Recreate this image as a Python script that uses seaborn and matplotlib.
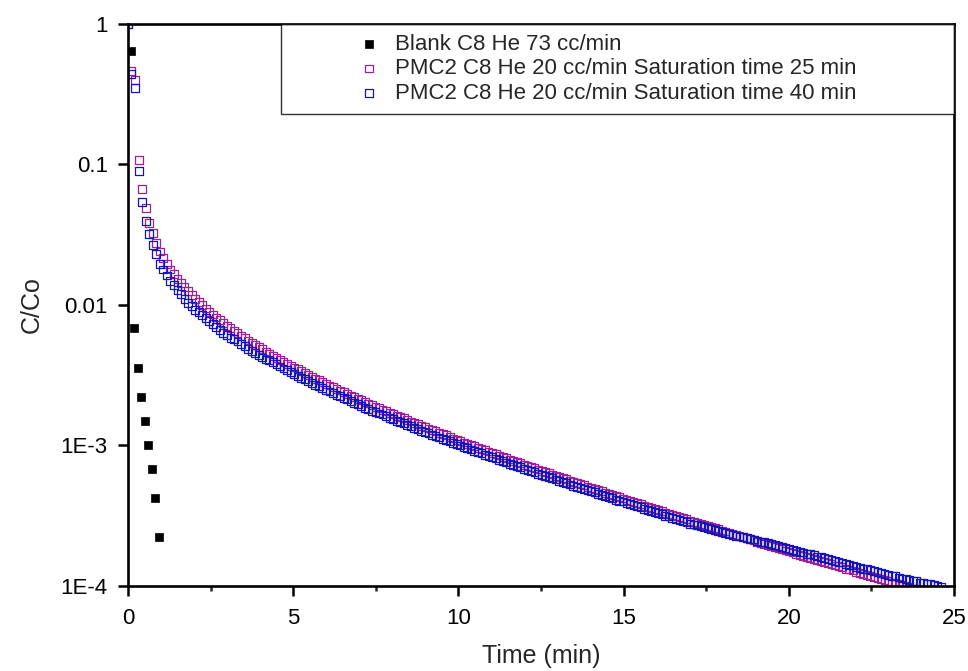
import numpy as np
import pandas as pd
import seaborn as sns
import matplotlib
matplotlib.use("Agg")
import matplotlib.pyplot as plt
from matplotlib.ticker import FixedLocator, FixedFormatter, MultipleLocator, NullLocator

# sampling times of the PMC2 runs (min)
time_min = [
    0.0, 0.107, 0.214, 0.321, 0.428, 0.535, 0.642, 0.749, 0.856, 0.963,
    1.07, 1.177, 1.284, 1.391, 1.498, 1.605, 1.712, 1.819, 1.926, 2.033,
    2.14, 2.247, 2.354, 2.461, 2.568, 2.675, 2.782, 2.889, 2.996, 3.103,
    3.21, 3.317, 3.424, 3.531, 3.638, 3.745, 3.852, 3.959, 4.066, 4.173,
    4.28, 4.387, 4.494, 4.601, 4.708, 4.815, 4.922, 5.029, 5.136, 5.243,
    5.35, 5.457, 5.564, 5.671, 5.778, 5.885, 5.992, 6.099, 6.206, 6.313,
    6.42, 6.527, 6.634, 6.741, 6.848, 6.955, 7.062, 7.169, 7.276, 7.383,
    7.49, 7.597, 7.704, 7.811, 7.918, 8.025, 8.132, 8.239, 8.346, 8.453,
    8.56, 8.667, 8.774, 8.881, 8.988, 9.095, 9.202, 9.309, 9.416, 9.523,
    9.63, 9.737, 9.844, 9.951, 10.058, 10.165, 10.272, 10.379, 10.486, 10.593,
    10.7, 10.807, 10.914, 11.021, 11.128, 11.235, 11.342, 11.449, 11.556, 11.663,
    11.77, 11.877, 11.984, 12.091, 12.198, 12.305, 12.412, 12.519, 12.626, 12.733,
    12.84, 12.947, 13.054, 13.161, 13.268, 13.375, 13.482, 13.589, 13.696, 13.803,
    13.91, 14.017, 14.124, 14.231, 14.338, 14.445, 14.552, 14.659, 14.766, 14.873,
    14.98, 15.087, 15.194, 15.301, 15.408, 15.515, 15.622, 15.729, 15.836, 15.943,
    16.05, 16.157, 16.264, 16.371, 16.478, 16.585, 16.692, 16.799, 16.906, 17.013,
    17.12, 17.227, 17.334, 17.441, 17.548, 17.655, 17.762, 17.869, 17.976, 18.083,
    18.19, 18.297, 18.404, 18.511, 18.618, 18.725, 18.832, 18.939, 19.046, 19.153,
    19.26, 19.367, 19.474, 19.581, 19.688, 19.795, 19.902, 20.009, 20.116, 20.223,
    20.33, 20.437, 20.544, 20.651, 20.758, 20.865, 20.972, 21.079, 21.186, 21.293,
    21.4, 21.507, 21.614, 21.721, 21.828, 21.935, 22.042, 22.149, 22.256, 22.363,
    22.47, 22.577, 22.684, 22.791, 22.898, 23.005, 23.112, 23.219, 23.326, 23.433,
    23.54, 23.647, 23.754, 23.861, 23.968, 24.075, 24.182, 24.289, 24.396, 24.503,
    24.61,
]

# C/Co, saturation time 25 min
c_sat25 = [
    1.0, 0.46, 0.40, 0.108, 0.0666, 0.0488, 0.0385, 0.0324, 0.0277, 0.0240,
    0.0215, 0.0195, 0.0179, 0.0166, 0.0153, 0.0143, 0.0134, 0.0125, 0.0118, 0.0111,
    0.0105, 9.95e-3, 9.44e-3, 8.97e-3, 8.55e-3, 8.15e-3, 7.78e-3, 7.45e-3, 7.13e-3, 6.82e-3,
    6.55e-3, 6.28e-3, 6.04e-3, 5.81e-3, 5.58e-3, 5.38e-3, 5.19e-3, 5.00e-3, 4.83e-3, 4.67e-3,
    4.51e-3, 4.36e-3, 4.21e-3, 4.07e-3, 3.94e-3, 3.82e-3, 3.70e-3, 3.59e-3, 3.48e-3, 3.37e-3,
    3.27e-3, 3.18e-3, 3.08e-3, 2.99e-3, 2.91e-3, 2.82e-3, 2.75e-3, 2.67e-3, 2.60e-3, 2.53e-3,
    2.46e-3, 2.39e-3, 2.33e-3, 2.27e-3, 2.21e-3, 2.15e-3, 2.10e-3, 2.04e-3, 1.99e-3, 1.94e-3,
    1.89e-3, 1.84e-3, 1.80e-3, 1.76e-3, 1.71e-3, 1.67e-3, 1.63e-3, 1.59e-3, 1.56e-3, 1.52e-3,
    1.48e-3, 1.45e-3, 1.42e-3, 1.38e-3, 1.35e-3, 1.32e-3, 1.29e-3, 1.26e-3, 1.23e-3, 1.20e-3,
    1.18e-3, 1.15e-3, 1.12e-3, 1.10e-3, 1.08e-3, 1.05e-3, 1.03e-3, 1.01e-3, 9.86e-4, 9.65e-4,
    9.44e-4, 9.24e-4, 9.05e-4, 8.85e-4, 8.67e-4, 8.48e-4, 8.30e-4, 8.13e-4, 7.95e-4, 7.79e-4,
    7.62e-4, 7.47e-4, 7.31e-4, 7.16e-4, 7.02e-4, 6.88e-4, 6.74e-4, 6.60e-4, 6.47e-4, 6.34e-4,
    6.21e-4, 6.09e-4, 5.97e-4, 5.85e-4, 5.74e-4, 5.62e-4, 5.51e-4, 5.40e-4, 5.30e-4, 5.20e-4,
    5.09e-4, 4.99e-4, 4.90e-4, 4.80e-4, 4.71e-4, 4.62e-4, 4.53e-4, 4.44e-4, 4.36e-4, 4.27e-4,
    4.19e-4, 4.11e-4, 4.03e-4, 3.95e-4, 3.88e-4, 3.81e-4, 3.73e-4, 3.66e-4, 3.59e-4, 3.53e-4,
    3.46e-4, 3.40e-4, 3.33e-4, 3.27e-4, 3.21e-4, 3.15e-4, 3.09e-4, 3.04e-4, 2.98e-4, 2.92e-4,
    2.87e-4, 2.82e-4, 2.77e-4, 2.72e-4, 2.67e-4, 2.62e-4, 2.57e-4, 2.53e-4, 2.48e-4, 2.44e-4,
    2.39e-4, 2.35e-4, 2.31e-4, 2.27e-4, 2.23e-4, 2.19e-4, 2.15e-4, 2.11e-4, 2.07e-4, 2.03e-4,
    2.00e-4, 1.96e-4, 1.93e-4, 1.89e-4, 1.86e-4, 1.83e-4, 1.79e-4, 1.76e-4, 1.73e-4, 1.70e-4,
    1.67e-4, 1.64e-4, 1.61e-4, 1.59e-4, 1.56e-4, 1.53e-4, 1.50e-4, 1.48e-4, 1.45e-4, 1.43e-4,
    1.40e-4, 1.38e-4, 1.36e-4, 1.33e-4, 1.31e-4, 1.29e-4, 1.26e-4, 1.24e-4, 1.22e-4, 1.20e-4,
    1.18e-4, 1.16e-4, 1.14e-4, 1.12e-4, 1.10e-4, 1.08e-4, 1.06e-4, 1.05e-4, 1.03e-4, 1.01e-4,
    9.93e-5, 9.78e-5, 9.60e-5, 9.44e-5,
]

# C/Co, saturation time 40 min
c_sat40 = [
    1.0, 0.44, 0.35, 0.090, 0.0543, 0.0396, 0.0319, 0.0266, 0.0231, 0.0197,
    0.0179, 0.0162, 0.0149, 0.0138, 0.0127, 0.0119, 0.0111, 0.0104, 9.82e-3, 9.24e-3,
    8.96e-3, 8.49e-3, 8.05e-3, 7.65e-3, 7.29e-3, 6.95e-3, 6.64e-3, 6.35e-3, 6.08e-3, 5.82e-3,
    5.73e-3, 5.50e-3, 5.29e-3, 5.08e-3, 4.88e-3, 4.71e-3, 4.54e-3, 4.38e-3, 4.23e-3, 4.09e-3,
    4.05e-3, 3.91e-3, 3.78e-3, 3.65e-3, 3.53e-3, 3.43e-3, 3.32e-3, 3.22e-3, 3.12e-3, 3.02e-3,
    2.96e-3, 2.88e-3, 2.79e-3, 2.71e-3, 2.64e-3, 2.55e-3, 2.49e-3, 2.42e-3, 2.36e-3, 2.29e-3,
    2.25e-3, 2.18e-3, 2.13e-3, 2.07e-3, 2.02e-3, 1.97e-3, 1.92e-3, 1.86e-3, 1.82e-3, 1.77e-3,
    1.74e-3, 1.69e-3, 1.66e-3, 1.62e-3, 1.57e-3, 1.54e-3, 1.50e-3, 1.46e-3, 1.44e-3, 1.40e-3,
    1.37e-3, 1.34e-3, 1.31e-3, 1.27e-3, 1.25e-3, 1.22e-3, 1.19e-3, 1.16e-3, 1.14e-3, 1.11e-3,
    1.09e-3, 1.07e-3, 1.04e-3, 1.02e-3, 1.00e-3, 9.73e-4, 9.55e-4, 9.36e-4, 9.14e-4, 8.95e-4,
    8.79e-4, 8.60e-4, 8.43e-4, 8.24e-4, 8.07e-4, 7.89e-4, 7.73e-4, 7.57e-4, 7.40e-4, 7.25e-4,
    7.12e-4, 6.98e-4, 6.83e-4, 6.69e-4, 6.56e-4, 6.43e-4, 6.30e-4, 6.17e-4, 6.05e-4, 5.93e-4,
    5.84e-4, 5.72e-4, 5.61e-4, 5.50e-4, 5.40e-4, 5.28e-4, 5.18e-4, 5.08e-4, 4.98e-4, 4.89e-4,
    4.82e-4, 4.72e-4, 4.64e-4, 4.54e-4, 4.46e-4, 4.37e-4, 4.29e-4, 4.20e-4, 4.12e-4, 4.04e-4,
    3.99e-4, 3.92e-4, 3.84e-4, 3.76e-4, 3.70e-4, 3.63e-4, 3.55e-4, 3.49e-4, 3.42e-4, 3.36e-4,
    3.30e-4, 3.24e-4, 3.17e-4, 3.12e-4, 3.06e-4, 3.00e-4, 2.94e-4, 2.90e-4, 2.84e-4, 2.78e-4,
    2.74e-4, 2.70e-4, 2.66e-4, 2.62e-4, 2.57e-4, 2.53e-4, 2.49e-4, 2.46e-4, 2.41e-4, 2.38e-4,
    2.34e-4, 2.31e-4, 2.28e-4, 2.25e-4, 2.23e-4, 2.19e-4, 2.17e-4, 2.14e-4, 2.10e-4, 2.07e-4,
    2.05e-4, 2.01e-4, 1.99e-4, 1.95e-4, 1.93e-4, 1.90e-4, 1.86e-4, 1.83e-4, 1.81e-4, 1.78e-4,
    1.75e-4, 1.73e-4, 1.70e-4, 1.68e-4, 1.65e-4, 1.62e-4, 1.60e-4, 1.58e-4, 1.55e-4, 1.53e-4,
    1.50e-4, 1.48e-4, 1.47e-4, 1.44e-4, 1.42e-4, 1.40e-4, 1.37e-4, 1.35e-4, 1.33e-4, 1.32e-4,
    1.30e-4, 1.28e-4, 1.26e-4, 1.24e-4, 1.22e-4, 1.20e-4, 1.18e-4, 1.17e-4, 1.15e-4, 1.13e-4,
    1.12e-4, 1.10e-4, 1.09e-4, 1.08e-4, 1.06e-4, 1.05e-4, 1.04e-4, 1.03e-4, 1.01e-4, 1.00e-4,
    9.89e-5,
]

# blank run
blank_time = [0.09, 0.19, 0.30, 0.40, 0.51, 0.62, 0.72, 0.83, 0.94]
blank_c = [0.64, 6.83e-3, 3.54e-3, 2.22e-3, 1.49e-3, 1.01e-3, 6.8e-4, 4.23e-4, 2.23e-4]

labels = [
    "Blank C8 He 73 cc/min",
    "PMC2 C8 He 20 cc/min Saturation time 25 min",
    "PMC2 C8 He 20 cc/min Saturation time 40 min",
]
y_ticks = [1e-4, 1e-3, 1e-2, 1e-1, 1]
y_tick_labels = ["1E-4", "1E-3", "0.01", "0.1", "1"]

sns.set_style("ticks")
plt.rcParams["font.family"] = ["Liberation Sans", "DejaVu Sans"]

fig = plt.figure(figsize=(9.68, 6.71), dpi=100)
ax = fig.add_axes([0.1322, 0.1267, 0.8533, 0.8376])

df_blank = pd.DataFrame({"t": blank_time, "c": blank_c})
df25 = pd.DataFrame({"t": time_min[:len(c_sat25)], "c": c_sat25})
df40 = pd.DataFrame({"t": time_min[:len(c_sat40)], "c": c_sat40})

sns.scatterplot(data=df_blank, x="t", y="c", ax=ax, marker="s", s=26,
                color="black", edgecolor="black", linewidth=0.5, label=labels[0])
sns.scatterplot(data=df25, x="t", y="c", ax=ax, marker="s", s=32,
                facecolor="none", edgecolor="#9b209b", linewidth=0.9, label=labels[1])
sns.scatterplot(data=df40, x="t", y="c", ax=ax, marker="s", s=32,
                facecolor="none", edgecolor="#1414b8", linewidth=0.9, label=labels[2])

ax.set_yscale("log")
ax.set_ylim(1e-4, 1)
ax.set_xlim(0, 25)
ax.yaxis.set_major_locator(FixedLocator(y_ticks))
ax.yaxis.set_major_formatter(FixedFormatter(y_tick_labels))
ax.yaxis.set_minor_locator(NullLocator())
ax.xaxis.set_major_locator(MultipleLocator(5))
ax.xaxis.set_minor_locator(MultipleLocator(2.5))

for sp in ax.spines.values():
    sp.set_linewidth(1.9)
    sp.set_color("black")
ax.tick_params(which="major", direction="out", length=7.5, width=1.8, labelsize=16,
               colors="black", pad=8)
ax.tick_params(axis="y", which="major", pad=7)
ax.tick_params(which="minor", direction="out", length=3.6, width=1.8)

ax.set_xlabel("Time (min)", fontsize=18, labelpad=11)
ax.set_ylabel("C/Co", fontsize=18, labelpad=12)

leg = ax.legend(loc="upper left", bbox_to_anchor=(0.1852, 0.836, 0.8148, 0.164),
                mode="expand", borderaxespad=0, fontsize=16, frameon=True,
                fancybox=False, edgecolor="black", handlelength=7.0,
                handletextpad=-2.3, borderpad=0.45, labelspacing=0.15)
leg.get_frame().set_linewidth(1.0)

fig.savefig("out.png", dpi=100)
